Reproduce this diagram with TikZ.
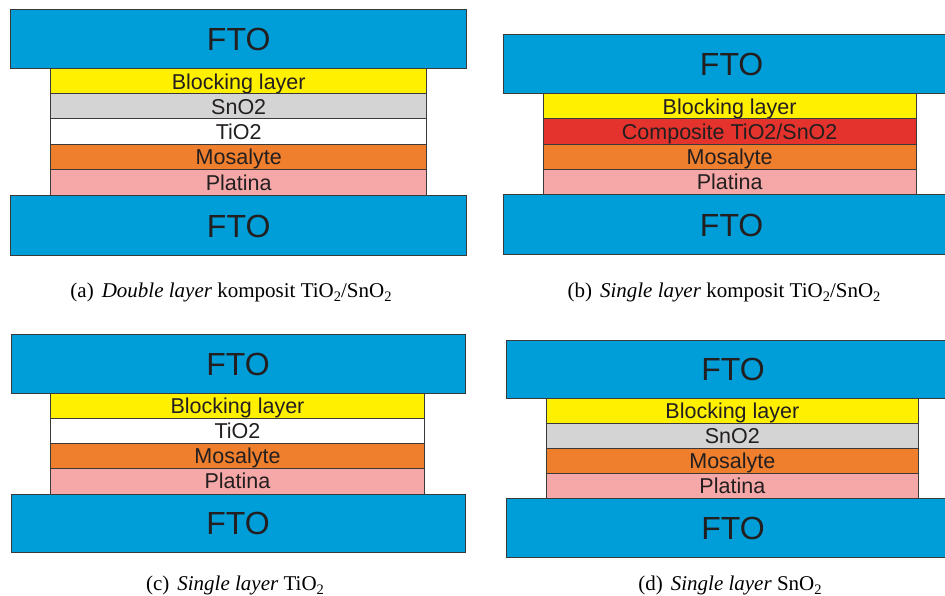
\documentclass[tikz,border=0pt]{standalone}
\usepackage{fontspec}
\setmainfont{Liberation Serif}
\newfontfamily\sansf{Liberation Sans}
\definecolor{ftoblue}{HTML}{009ED8}
\definecolor{blockyel}{HTML}{FFF000}
\definecolor{sngray}{HTML}{D4D4D4}
\definecolor{mosor}{HTML}{EF7F2D}
\definecolor{platpink}{HTML}{F5A8A7}
\definecolor{compred}{HTML}{E4322C}
\definecolor{linec}{HTML}{3A3A3A}
\definecolor{txtc}{HTML}{231F20}
\newcommand\subtwo{\raisebox{-0.22em}{\fontsize{14.5}{16}\selectfont 2}}
\tikzset{
  layerbox/.style={draw=linec, line width=1pt, inner sep=0pt, text=txtc,
    font=\sansf\fontsize{21.5}{24}\selectfont, text height=15.3pt, text depth=0pt},
  ftobox/.style={layerbox, fill=ftoblue, font=\sansf\fontsize{32}{36}\selectfont, text height=22.9pt},
  capt/.style={anchor=base, inner sep=0pt, font=\fontsize{21}{25}\selectfont, text=black}
}
% name, x1, y1, x2, y2, style, text
\newcommand\lay[7]{%
  \pgfmathsetmacro\lw{#4-#2}\pgfmathsetmacro\lh{#5-#3}%
  \node[#6, minimum width=\lw pt, minimum height=\lh pt] (#1) at ({(#2+#4)/2},{(#3+#5)/2}) {#7};}
\begin{document}
\begin{tikzpicture}[x=1pt,y=-1pt]
\useasboundingbox[fill=white] (0,0) rectangle (945,596);
% (a)
\lay{aft}{10.7}{10}{466.7}{69}{ftobox}{FTO}
\lay{abl}{50.7}{69}{426.7}{94}{layerbox,fill=blockyel}{Blocking layer}
\lay{asn}{50.7}{94}{426.7}{119}{layerbox,fill=sngray}{SnO2}
\lay{ati}{50.7}{119}{426.7}{144.3}{layerbox,fill=white}{TiO2}
\lay{amo}{50.7}{144.3}{426.7}{170}{layerbox,fill=mosor}{Mosalyte}
\lay{apl}{50.7}{170}{426.7}{195.7}{layerbox,fill=platpink}{Platina}
\lay{afb}{10.7}{195.7}{466.7}{255.7}{ftobox}{FTO}
\node[capt] (capa) at (231,297) {(a)\hspace{8pt}\textit{Double layer} komposit TiO\subtwo/SnO\subtwo};
% (b)
\lay{bft}{503.3}{35}{960}{94}{ftobox}{FTO}
\lay{bbl}{543.3}{94}{916}{119}{layerbox,fill=blockyel}{Blocking layer}
\lay{bco}{543.3}{119}{916}{144.3}{layerbox,fill=compred}{Composite TiO2/SnO2}
\lay{bmo}{543.3}{144.3}{916}{169.3}{layerbox,fill=mosor}{Mosalyte}
\lay{bpl}{543.3}{169.3}{916}{195}{layerbox,fill=platpink}{Platina}
\lay{bfb}{503.3}{195}{960}{254.3}{ftobox}{FTO}
\node[capt] (capb) at (724,297) {(b)\hspace{8pt}\textit{Single layer} komposit TiO\subtwo/SnO\subtwo};
% (c)
\lay{cft}{11}{334.3}{465}{393.3}{ftobox}{FTO}
\lay{cbl}{50.7}{393.3}{424.3}{418.3}{layerbox,fill=blockyel}{Blocking layer}
\lay{cti}{50.7}{418.3}{424.3}{443.3}{layerbox,fill=white}{TiO2}
\lay{cmo}{50.7}{443.3}{424.3}{468.3}{layerbox,fill=mosor}{Mosalyte}
\lay{cpl}{50.7}{468.3}{424.3}{494}{layerbox,fill=platpink}{Platina}
\lay{cfb}{11}{494}{465}{552.7}{ftobox}{FTO}
\node[capt] (capc) at (235,590) {(c)\hspace{8pt}\textit{Single layer} TiO\subtwo};
% (d)
\lay{dft}{506}{340}{960}{398.3}{ftobox}{FTO}
\lay{dbl}{546}{398.3}{918.7}{423.3}{layerbox,fill=blockyel}{Blocking layer}
\lay{dsn}{546}{423.3}{918.7}{448.3}{layerbox,fill=sngray}{SnO2}
\lay{dmo}{546}{448.3}{918.7}{473.3}{layerbox,fill=mosor}{Mosalyte}
\lay{dpl}{546}{473.3}{918.7}{498.7}{layerbox,fill=platpink}{Platina}
\lay{dfb}{506}{498.7}{960}{557.7}{ftobox}{FTO}
\node[capt] (capd) at (730,590) {(d)\hspace{8pt}\textit{Single layer} SnO\subtwo};
\end{tikzpicture}
\end{document}
